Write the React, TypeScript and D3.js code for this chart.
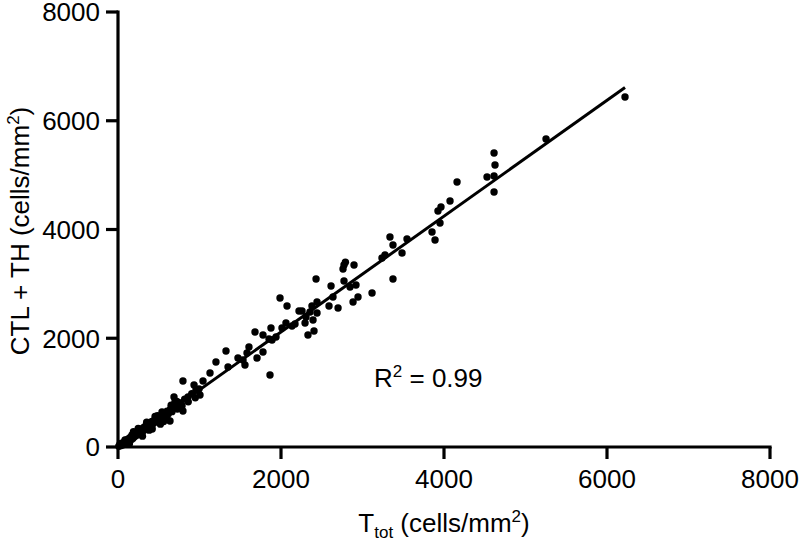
import React from "react";
import * as d3 from "d3";

const xTicks = [0, 2000, 4000, 6000, 8000];
const yTicks = [0, 2000, 4000, 6000, 8000];

// T_tot values (cells/mm²)
const tTot = [
  6221, 5252, 4614, 4626, 4528, 4614, 4614, 4160, 4074, 3963, 3926, 3951, 3853, 3890, 3546, 3485,
  3337, 3374, 3374, 3276, 3239, 3117, 2896, 2773, 2761, 2790, 2773, 2847, 2920, 2945, 2884, 2638,
  2614, 2430, 2589, 2700, 2442, 2442, 2380, 2356, 2258, 2307, 2393, 2331, 2405, 2074, 1988, 2061,
  2135, 2172, 2295, 2012, 2221, 1877, 1681, 1779, 1853, 1939, 1890, 1779, 1706, 1865, 1607, 1583,
  1534, 1558, 1472, 1325, 1202, 1350, 1129, 1043, 797, 933, 957, 1006, 687, 859, 994, 797,
  699, 638, 540, 479, 417, 331, 258, 172, 86, 25,
  10, 30, 45, 55, 75, 95, 100, 115, 125, 140, 150, 165, 175, 185, 200, 205, 215, 230, 240, 250,
  262, 275, 280, 295, 305, 312, 325, 335, 348, 356, 368, 382, 390, 398, 412, 425, 433, 446, 455, 468,
  478, 492, 505, 520, 538, 552, 566, 585, 602, 618, 645, 662, 705, 728, 752, 786, 818, 862, 905, 948,
  300, 352, 420, 484, 560, 248, 600, 652, 722, 382, 190, 140, 455, 520
];

// CTL + TH values (cells/mm²)
const ctlTh = [
  6437, 5664, 5407, 5186, 4965, 4984, 4689, 4873, 4524, 4414, 4340, 4119, 3954, 3807, 3825, 3568,
  3862, 3715, 3090, 3531, 3476, 2832, 3347, 3347, 3273, 3400, 3053, 2942, 2979, 2758, 2667, 2758,
  2961, 3090, 2593, 2556, 2667, 2464, 2593, 2483, 2501, 2391, 2336, 2060, 2133, 2593, 2740, 2280,
  2225, 2262, 2280, 2188, 2501, 2188, 2115, 2060, 1986, 2023, 1968, 1747, 1637, 1324, 1839, 1729,
  1600, 1508, 1637, 1765, 1563, 1471, 1361, 1214, 1214, 1140, 1048, 956, 920, 920, 1067, 662,
  828, 478, 644, 552, 460, 368, 276, 221, 129, 55,
  15, 25, 70, 35, 90, 60, 125, 95, 150, 115, 175, 140, 200, 160, 230, 195, 245, 215, 270, 240,
  300, 260, 320, 285, 345, 300, 370, 330, 395, 350, 410, 380, 440, 400, 465, 420, 480, 450, 505, 470,
  530, 500, 560, 520, 590, 555, 620, 590, 660, 610, 700, 650, 780, 700, 815, 760, 880, 830, 980, 905,
  200, 455, 330, 575, 470, 340, 520, 770, 840, 310, 280, 60, 560, 420
];

const fitSlope = 1.065;
const fitIntercept = -15;
const fitXRange = [0, 6221];

export default function App() {
  const width = 800;
  const height = 541;
  const x = d3.scaleLinear().domain([0, 8000]).range([118, 770]);
  const y = d3.scaleLinear().domain([0, 8000]).range([447, 12]);
  const line = d3
    .line<number>()
    .x((d) => x(d))
    .y((d) => y(fitSlope * d + fitIntercept));
  const font = "'Liberation Sans', Arial, sans-serif";
  const tickLen = 12;
  const sw = 3.2;
  const fs = 26;
  const sup = 17;

  return (
    <svg
      width={width}
      height={height}
      style={{ position: "absolute", left: 0, top: 0, background: "#fff" }}
      fontFamily={font}
    >
      <rect width={width} height={height} fill="#fff" />
      {/* data points */}
      {tTot.map((v, i) => (
        <circle key={i} cx={x(v)} cy={y(ctlTh[i])} r={3.7} fill="#000" />
      ))}
      {/* regression line */}
      <path d={line(fitXRange) || ""} stroke="#000" strokeWidth={3} fill="none" />

      {/* y axis */}
      <line x1={x(0)} x2={x(0)} y1={y(8000)} y2={y(0)} stroke="#000" strokeWidth={sw} strokeLinecap="square" />
      {yTicks.map((t) => (
        <g key={"y" + t}>
          <line x1={x(0) - tickLen} x2={x(0)} y1={y(t)} y2={y(t)} stroke="#000" strokeWidth={sw} />
          <text x={x(0) - 18} y={y(t)} dy="0.36em" textAnchor="end" fontSize={fs} fill="#000">
            {t}
          </text>
        </g>
      ))}
      {/* x axis */}
      <line x1={x(0)} x2={x(8000)} y1={y(0)} y2={y(0)} stroke="#000" strokeWidth={sw} strokeLinecap="square" />
      {xTicks.map((t) => (
        <g key={"x" + t}>
          <line x1={x(t)} x2={x(t)} y1={y(0)} y2={y(0) + tickLen} stroke="#000" strokeWidth={sw} />
          <text x={x(t)} y={488} textAnchor="middle" fontSize={fs} fill="#000">
            {t}
          </text>
        </g>
      ))}

      {/* axis titles */}
      <text x={444} y={532} textAnchor="middle" fontSize={fs} fill="#000">
        T<tspan fontSize={sup} dy={6}>tot</tspan>
        <tspan dy={-6}> (cells/mm</tspan>
        <tspan fontSize={sup} dy={-10}>2</tspan>
        <tspan dy={10}>)</tspan>
      </text>
      <text
        transform="translate(29,231) rotate(-90)"
        textAnchor="middle"
        fontSize={fs}
        fill="#000"
      >
        CTL + TH (cells/mm<tspan fontSize={sup} dy={-10}>2</tspan>
        <tspan dy={10}>)</tspan>
      </text>

      {/* R² annotation */}
      <text x={374} y={387} fontSize={fs} fill="#000">
        R<tspan fontSize={sup} dy={-10}>2</tspan>
        <tspan dy={10}> = 0.99</tspan>
      </text>
    </svg>
  );
}
